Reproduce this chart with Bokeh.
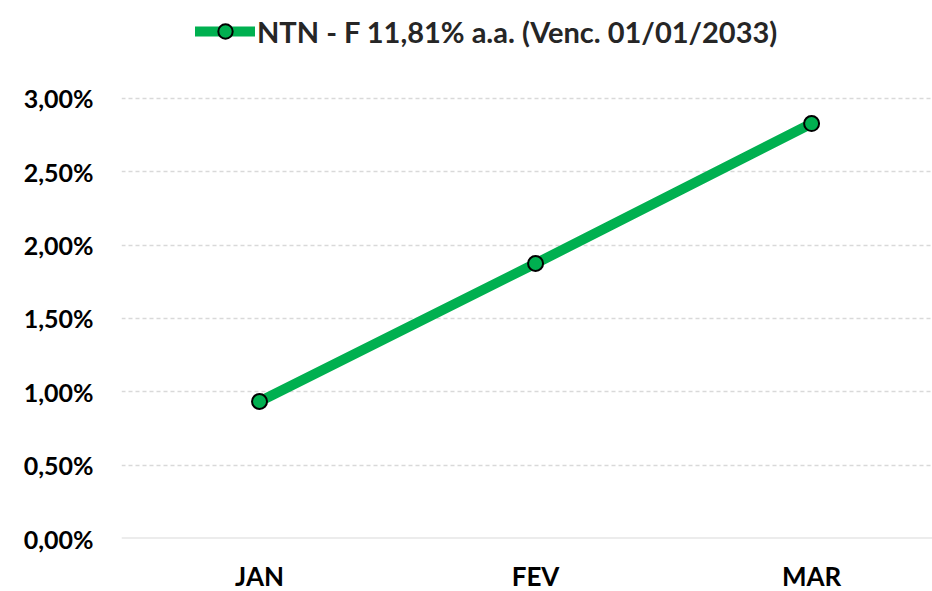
from bokeh.plotting import figure
from bokeh.models import FixedTicker, Legend, LegendItem, Range1d, Span
from bokeh.embed import file_html
from bokeh.resources import INLINE

categories = ["JAN", "FEV", "MAR"]
values = [0.934, 1.875, 2.829]
series_name = "NTN - F 11,81% a.a. (Venc. 01/01/2033)"
y_ticks = [0.0, 0.5, 1.0, 1.5, 2.0, 2.5, 3.0]
y_tick_labels = ["0,00%", "0,50%", "1,00%", "1,50%", "2,00%", "2,50%", "3,00%"]

GREEN = "#00B050"
FONT = "Lato"

x = list(range(len(categories)))

p = figure(frame_width=811, frame_height=530, output_backend="svg", toolbar_location=None,
           x_range=Range1d(-0.5, 2.438), y_range=Range1d(0, 3.6136),
           min_border_left=121, min_border_right=0, min_border_top=8, min_border_bottom=45)
p.outline_line_color = None
p.background_fill_color = "white"

line_r = p.line(x, values, line_color=GREEN, line_width=10, line_cap="round")
pts_r = p.scatter(x, values, size=15, fill_color=GREEN, line_color="black", line_width=2)

p.xaxis.ticker = FixedTicker(ticks=x)
p.xaxis.major_label_overrides = {i: c for i, c in enumerate(categories)}
p.yaxis.ticker = FixedTicker(ticks=y_ticks)
p.yaxis.major_label_overrides = {t: l for t, l in zip(y_ticks, y_tick_labels)}

for ax in (p.xaxis, p.yaxis):
    ax.axis_line_color = None
    ax.major_tick_line_color = None
    ax.minor_tick_line_color = None
    ax.major_label_text_font = FONT
    ax.major_label_text_font_style = "bold"
    ax.major_label_text_color = "black"
p.yaxis.major_label_text_font_size = "25px"
p.xaxis.major_label_text_font_size = "26px"
p.yaxis.major_label_standoff = 22
p.xaxis.major_label_standoff = 15

p.xgrid.grid_line_color = None
p.ygrid.grid_line_color = "#D9D9D9"
p.ygrid.grid_line_dash = "4 3"
p.ygrid.grid_line_width = 1.5

base = Span(location=0, dimension="width", line_color="#D9D9D9", line_width=2)
p.add_layout(base)

legend = Legend(items=[LegendItem(label=series_name, renderers=[line_r, pts_r])],
                orientation="horizontal", location=(74, 489),
                label_text_font=FONT, label_text_font_style="bold",
                label_text_font_size="29px", label_text_color="#262626",
                glyph_width=60, glyph_height=36, border_line_color=None,
                background_fill_alpha=0, label_standoff=2, padding=0, margin=0)
p.add_layout(legend, "center")

open("out.html", "w").write(file_html(p, INLINE))
